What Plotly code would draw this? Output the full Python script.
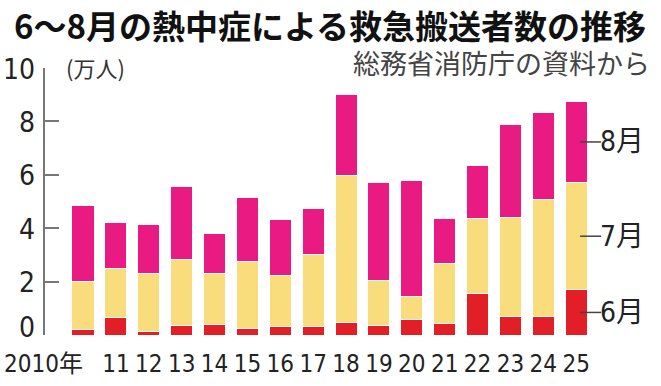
import plotly.graph_objects as go

years = list(range(2010, 2026))
year_labels = ["2010年", "11", "12", "13", "14", "15", "16", "17", "18", "19",
               "20", "21", "22", "23", "24", "25"]
june = [0.19, 0.65, 0.15, 0.37, 0.41, 0.26, 0.31, 0.31, 0.46, 0.36, 0.59, 0.44, 1.56, 0.69, 0.69, 1.69]
july = [1.83, 1.85, 2.15, 2.44, 1.90, 2.51, 1.91, 2.72, 5.51, 1.70, 0.87, 2.22, 2.79, 3.72, 4.38, 4.02]
august = [2.82, 1.73, 1.84, 2.75, 1.49, 2.38, 2.12, 1.69, 3.05, 3.66, 4.31, 1.70, 2.00, 3.48, 3.28, 3.04]
series_names = ["6月", "7月", "8月"]
y_ticks = [0, 2, 4, 6, 8, 10]

colors = ["#E21E26", "#F9DD7C", "#E91A82"]
NARROW = "Liberation Sans Narrow, DejaVu Sans Condensed, Liberation Sans, Noto Sans CJK JP"
CJK = "Noto Sans CJK JP"

fig = go.Figure()
for name, vals, c in zip(series_names, [june, july, august], colors):
    fig.add_trace(go.Bar(x=years, y=vals, name=name,
                         marker=dict(color=c, line=dict(color="white", width=1))))

fig.update_layout(
    width=661, height=386,
    margin=dict(l=45, r=3, t=68, b=51, autoexpand=False),
    barmode="stack", bargap=0.33,
    plot_bgcolor="white", paper_bgcolor="white",
    showlegend=False,
    xaxis=dict(range=[years[0] - 1.156, years[0] + 17.49], showline=False, showgrid=False,
               zeroline=False, ticks="", tickvals=years[1:], ticktext=year_labels[1:],
               automargin=False,
               tickfont=dict(family=NARROW, size=24, color="#222"), ticklabelstandoff=12),
    yaxis=dict(range=[0, 10], tickvals=y_ticks, showline=True, linecolor="#777", linewidth=1.5,
               ticks="inside", ticklen=14, tickwidth=1.5, tickcolor="#777",
               showgrid=False, zeroline=False, showticklabels=False, automargin=False),
)

# y tick labels (0 label nudged up as in the original)
for v in y_ticks:
    fig.add_annotation(x=0, y=v, xref="paper", yref="y", text=str(v), showarrow=False,
                       xanchor="right", yanchor="middle", xshift=-8, yshift=(8 if v == 0 else -1),
                       font=dict(family=NARROW, size=28, color="#222"))

# first x label
fig.add_annotation(x=years[0], y=0, xref="x", yref="paper", text=year_labels[0], showarrow=False,
                   xanchor="right", yanchor="top", xshift=2, yshift=-13,
                   font=dict(family=NARROW, size=24, color="#222"))

# title & source
fig.add_annotation(x=(12 - 45) / 613, y=1, xref="paper", yref="paper", yshift=68 + 1,
                   text="<b>6〜8月の熱中症による救急搬送者数の推移</b>",
                   showarrow=False, xanchor="left", yanchor="top",
                   font=dict(family=CJK, size=33, color="#111"))
fig.add_annotation(x=1, y=1, xref="paper", yref="paper", yshift=68 - 62,
                   text="総務省消防庁の資料から",
                   showarrow=False, xanchor="right", yanchor="middle", xshift=-6,
                   font=dict(family=CJK, size=27, color="#444"))
fig.add_annotation(x=(64 - 45) / 613, y=10, xref="paper", yref="y", text="(万人)", showarrow=False,
                   xanchor="left", yanchor="middle", yshift=1,
                   font=dict(family=CJK, size=22, color="#333"))

# month labels next to last bar
last = years[-1]
jl, ju, au = june[-1], july[-1], august[-1]
bases = [0, jl, jl + ju]
tops = [jl, jl + ju, jl + ju + au]
for name, b, t in zip(series_names, bases, tops):
    mid = (b + t) / 2
    fig.add_shape(type="line", x0=last + 0.12, x1=last + 0.76, y0=mid, y1=mid, xref="x", yref="y",
                  line=dict(color="#444", width=1.5))
    fig.add_annotation(x=last + 0.76, y=mid, xref="x", yref="y", text=name, showarrow=False,
                       xanchor="left", yanchor="middle", xshift=-3,
                       font=dict(family=NARROW, size=28, color="#222"))

fig.write_html("out.html", config={"displayModeBar": False},
               post_script="document.body.style.margin='0';")
